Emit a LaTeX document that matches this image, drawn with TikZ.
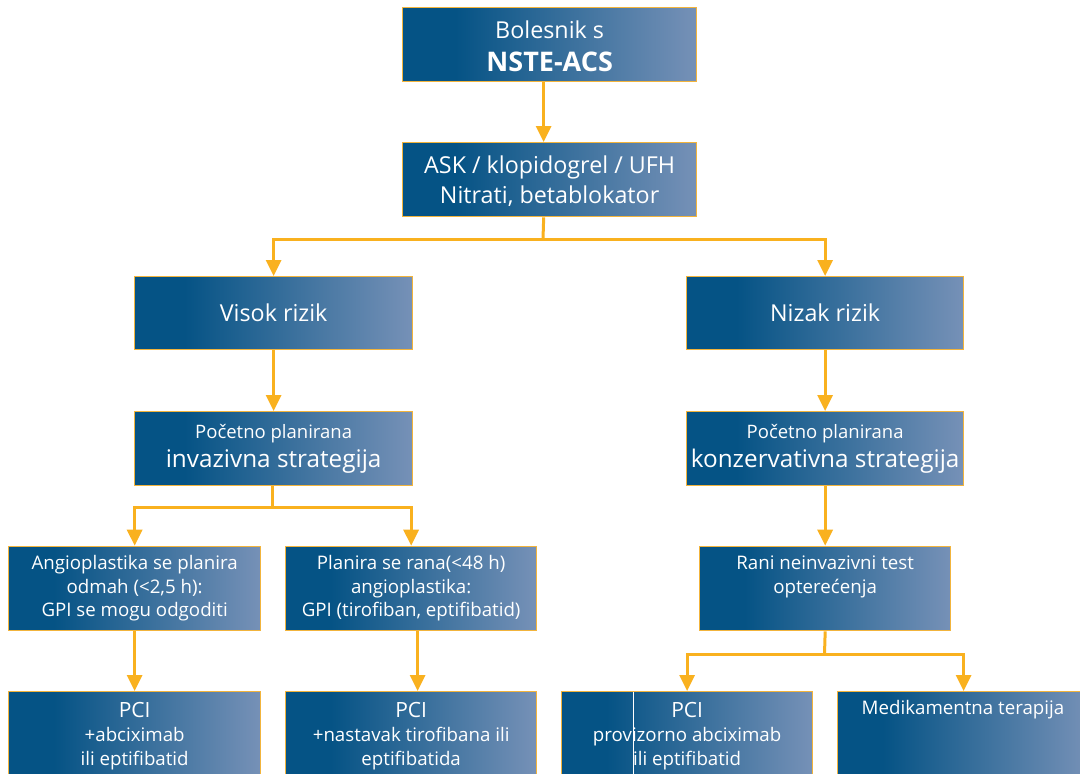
\documentclass[tikz,border=0pt]{standalone}
\usepackage{fontspec}
\setmainfont{Open Sans}
\usetikzlibrary{arrows.meta}
\definecolor{bxdark}{HTML}{055385}
\definecolor{bxlight}{HTML}{7691B7}
\definecolor{bxborder}{HTML}{F2B43C}
\definecolor{arrgold}{HTML}{F9B11F}
\pgfdeclarehorizontalshading{boxshade}{100bp}{color(0bp)=(bxdark); color(34bp)=(bxdark); color(75bp)=(bxlight); color(100bp)=(bxlight)}
\newcommand\fsz[2]{\fontsize{#1}{#2}\selectfont}
\begin{document}
\begin{tikzpicture}[x=1pt,y=-1pt,
  box/.style={draw=bxborder, line width=1.3pt, shade, shading=boxshade, anchor=north west, inner sep=0pt, align=center, text=white},
  lbl/.style={text=white, align=center, inner sep=0pt},
  conn/.style={draw=arrgold, line width=3pt},
  stem/.style={conn, line cap=rect},
  arr/.style={conn, -{Triangle[length=16pt,width=15pt]}},
]
\useasboundingbox (0,0) rectangle (1080,774);
\clip (0,0) rectangle (1080,774);

% level 1-2
\node[box, minimum width=294, minimum height=74, font=\fsz{23.3}{33.4}] (b1) at (402,7)
  {\rule{0pt}{21.5pt}Bolesnik s\\{\fsz{27}{33.4}\bfseries NSTE-ACS}};
\node[box, minimum width=294, minimum height=74, font=\fsz{23.3}{30}] (b2) at (402,142)
  {\rule{0pt}{21.5pt}ASK / klopidogrel / UFH\\Nitrati, betablokator};

% level 3
\node[box, minimum width=278, minimum height=73, font=\fsz{23.3}{28}] (visok) at (134,276) {Visok rizik};
\node[box, minimum width=277, minimum height=73, font=\fsz{23.3}{28}] (nizak) at (686,276) {Nizak rizik};

% level 4
\node[box, minimum width=278, minimum height=74, font=\fsz{24.3}{29}] (invaz) at (134,411)
  {{\fsz{18.5}{29}Početno planirana}\\invazivna strategija};
\node[box, minimum width=277, minimum height=74, font=\fsz{24.3}{29}] (konz) at (686,411)
  {{\fsz{18.5}{29}Početno planirana}\\konzervativna strategija};

% level 5
\node[box, minimum width=252, minimum height=84.3, font=\fsz{18.7}{23.5}] (angio) at (8,545.7)
  {Angioplastika se planira\\odmah (<2,5 h):\\GPI se mogu odgoditi};
\node[box, minimum width=251, minimum height=84.3, font=\fsz{18.7}{23.5}] (planira) at (285,545.7)
  {Planira se rana(<48 h)\\angioplastika:\\GPI (tirofiban, eptifibatid)};
\node[box, minimum width=251, minimum height=84.3, font=\fsz{18.7}{23.5}] (rani) at (699,545.7)
  {Rani neinvazivni test\\opterećenja\\\vphantom{g}};

% level 6 (cut off by the page edge)
\node[box, minimum width=252, minimum height=110] (pcia) at (8,691) {};
\node[box, minimum width=251, minimum height=110] (pcib) at (285,691) {};
\node[box, minimum width=251, minimum height=110] (pcic) at (561,691) {};
\node[box, minimum width=252, minimum height=110] (med) at (837,691) {};

\node[lbl, anchor=north, font=\fsz{18.7}{24}] (tpcia) at ([yshift=-10.7pt]pcia.north)
  {{\fsz{21}{24}PCI}\\+abciximab\\ili eptifibatid};
\node[lbl, anchor=north, font=\fsz{18.7}{24}] (tpcib) at ([yshift=-10.7pt]pcib.north)
  {{\fsz{21}{24}PCI}\\+nastavak tirofibana ili\\eptifibatida};
\node[lbl, anchor=north, font=\fsz{18.7}{24}] (tpcic) at ([yshift=-10.7pt]pcic.north)
  {{\fsz{21}{24}PCI}\\provizorno abciximab\\ili eptifibatid};
\node[lbl, anchor=base, font=\fsz{18.7}{24}] (tmed) at (963,714) {Medikamentna terapija};

\draw[white, line width=1pt] (633.3,691.8) -- (633.3,774);

% connectors
\draw[arr] ([xshift=-6pt]b1.south) -- ([xshift=-6pt]b2.north);
\coordinate (j1) at (543,239);
\draw[stem] ([xshift=-6pt,yshift=-1.5pt]b2.south) -- (j1);
\draw[arr] (j1) -| (visok.north);
\draw[arr] (j1) -| (nizak.north);
\draw[arr] (visok.south) -- (invaz.north);
\draw[arr] (nizak.south) -- (konz.north);
\coordinate (j2) at (272,507);
\draw[stem] ([yshift=-1.5pt]invaz.south -| j2) -- (j2);
\draw[arr] (j2) -| (angio.north);
\draw[arr] (j2) -| (planira.north);
\draw[arr] (angio.south) -- (pcia.north);
\draw[arr] ([xshift=6.5pt]planira.south) -- ([xshift=6.5pt]pcib.north);
\draw[arr] (konz.south) -- (rani.north);
\coordinate (j3) at (824.5,654);
\draw[stem] ([yshift=-1.5pt]rani.south) -- (j3);
\draw[arr] (j3) -| (pcic.north);
\draw[arr] (j3) -| (med.north);
\end{tikzpicture}
\end{document}
